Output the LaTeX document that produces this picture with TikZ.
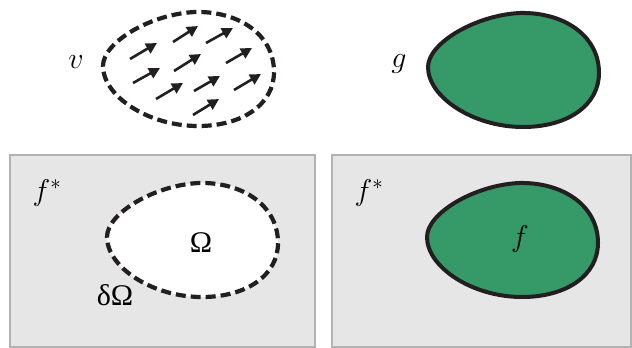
\RequirePackage{fix-cm}
\documentclass[tikz,border=0pt]{standalone}
\usepackage{fontspec}
\newfontfamily\grk{Liberation Serif}
\usetikzlibrary{arrows.meta}
\definecolor{blobgreen}{RGB}{53,153,104}
\definecolor{outline}{RGB}{35,31,32}
\definecolor{panelfill}{RGB}{230,230,230}
\definecolor{panelline}{RGB}{178,178,178}
\newcommand{\blobshape}{(0,54) .. controls (0,30) and (48,2) .. (92,0)
  .. controls (135,-1) and (171,22) .. (171,60)
  .. controls (171,92) and (140,114) .. (95,114)
  .. controls (45,114) and (0,84) .. cycle}
\tikzset{
  panel/.style={fill=panelfill, draw=panelline, line width=2.6pt},
  dashblob/.style={draw=outline, line width=4.2pt, dash pattern=on 10pt off 5pt, fill=white},
  greenblob/.style={draw=outline, line width=4pt, fill=blobgreen},
  vec/.style={draw=outline, line width=2.6pt, -{Triangle[length=11pt,width=11pt]}},
  lbl/.style={inner sep=0pt, font=\fontsize{30}{36}\selectfont},
}
\begin{document}
\begin{tikzpicture}[x=1pt,y=-1pt]
\useasboundingbox (0,0) rectangle (632,348);
% panels
\draw[panel] (10,155) rectangle (315,347);
\draw[panel] (332,155) rectangle (631,347);
% top-left dashed blob with vector field
\begin{scope}[shift={(103,12)}]
  \path[dashblob] \blobshape;
\end{scope}
\foreach \sx/\sy/\ex/\ey in {130/59/157/43, 173/42/198/26, 206/43/233/28,
  133/83/160/68, 174/71/201/54, 226/63/252/48,
  156/99/183/83, 194/91/220/76, 234/90/261/74, 193/115/219/99}
  \draw[vec] (\sx,\sy) -- (\ex,\ey);
% top-right green blob
\begin{scope}[shift={(428,13)}]
  \path[greenblob] \blobshape;
\end{scope}
% bottom-left dashed blob
\begin{scope}[shift={(107,183)}]
  \path[dashblob] \blobshape;
\end{scope}
% bottom-right green blob
\begin{scope}[shift={(427,183)}]
  \path[greenblob] \blobshape;
\end{scope}
% labels
\node[lbl] (lv) at (76,62) {$v$};
\node[lbl] (lg) at (399,64) {$g$};
\node[lbl] (lfs1) at (47,193) {$f^*$};
\node[lbl] (lfs2) at (369,193) {$f^*$};
\node[lbl] (lom) at (201,243) {\grk Ω};
\node[lbl] (ldom) at (115,295) {\grk δΩ};
\node[lbl] (lf) at (520,239) {$f$};
\end{tikzpicture}
\end{document}
